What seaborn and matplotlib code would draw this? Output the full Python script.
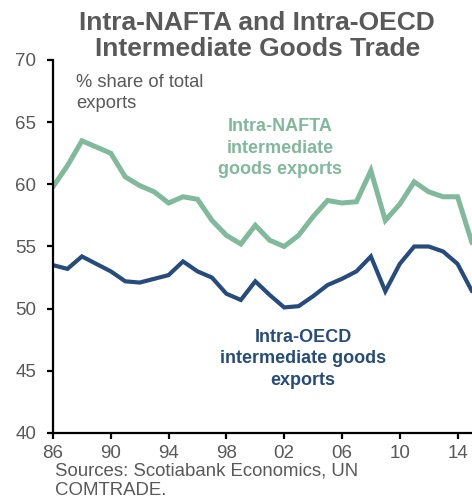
import matplotlib
matplotlib.use("Agg")
import matplotlib.pyplot as plt
import seaborn as sns
import pandas as pd

years = list(range(1986, 2016))
nafta = [59.8, 61.5, 63.5, 63.0, 62.5, 60.6, 59.9, 59.4, 58.5, 59.0,
         58.8, 57.1, 55.9, 55.2, 56.7, 55.5, 55.0, 55.9, 57.4, 58.7,
         58.5, 58.6, 61.1, 57.1, 58.4, 60.2, 59.4, 59.0, 59.0, 55.3]
oecd = [53.5, 53.2, 54.2, 53.6, 53.0, 52.2, 52.1, 52.4, 52.7, 53.8,
        53.0, 52.5, 51.2, 50.7, 52.2, 51.1, 50.1, 50.2, 51.0, 51.9,
        52.4, 53.0, 54.2, 51.4, 53.6, 55.0, 55.0, 54.6, 53.6, 51.4]
xticks = [1986, 1990, 1994, 1998, 2002, 2006, 2010, 2014]
xticklabels = ["86", "90", "94", "98", "02", "06", "10", "14"]
yticks = [40, 45, 50, 55, 60, 65, 70]

GREEN = "#80b99b"
BLUE = "#264b7d"
GREY = "#595959"

sns.set_style("white")
plt.rcParams["font.family"] = ["Liberation Sans", "DejaVu Sans"]

df = pd.DataFrame({"year": years, "nafta": nafta, "oecd": oecd})

fig = plt.figure(figsize=(4.72, 5.0), dpi=100)
ax = fig.add_axes([0.1123, 0.134, 0.8877, 0.746])

sns.lineplot(data=df, x="year", y="nafta", ax=ax, color=GREEN, linewidth=3.6,
             solid_joinstyle="miter")
sns.lineplot(data=df, x="year", y="oecd", ax=ax, color=BLUE, linewidth=3.0,
             solid_joinstyle="miter")

ax.set_xlim(1986, 2015)
ax.set_ylim(40, 70)
ax.set_xticks(xticks)
ax.set_xticklabels(xticklabels)
ax.set_yticks(yticks)
ax.set_xlabel("")
ax.set_ylabel("")

for side in ["top", "right"]:
    ax.spines[side].set_visible(False)
for side in ["left", "bottom"]:
    ax.spines[side].set_color("black")
    ax.spines[side].set_linewidth(1.6)
ax.tick_params(axis="both", direction="out", length=4, width=1.6, color="black",
               labelcolor=GREY, labelsize=13.5, bottom=True, left=True)
ax.tick_params(axis="y", pad=8)
ax.tick_params(axis="x", pad=4.5)

fig.text(0.545, 0.977, "Intra-NAFTA and Intra-OECD\nIntermediate Goods Trade",
         ha="center", va="top", fontsize=19, fontweight="bold", color=GREY,
         linespacing=1.08)

ax.text(1987.6, 68.85, "% share of total\nexports", ha="left", va="top",
        fontsize=13.2, color=GREY, linespacing=1.25)

ax.text(2001.7, 65.3, "Intra-NAFTA\nintermediate\ngoods exports", ha="center",
        va="top", fontsize=13, fontweight="bold", color=GREEN, linespacing=1.32)

ax.text(2003.3, 48.4, "Intra-OECD\nintermediate goods\nexports", ha="center",
        va="top", fontsize=13, fontweight="bold", color=BLUE, linespacing=1.35)

fig.text(0.117, 0.074, "Sources: Scotiabank Economics, UN\nCOMTRADE.", ha="left",
         va="top", fontsize=13.4, color=GREY, linespacing=1.12)

fig.savefig("out.png", dpi=100)
